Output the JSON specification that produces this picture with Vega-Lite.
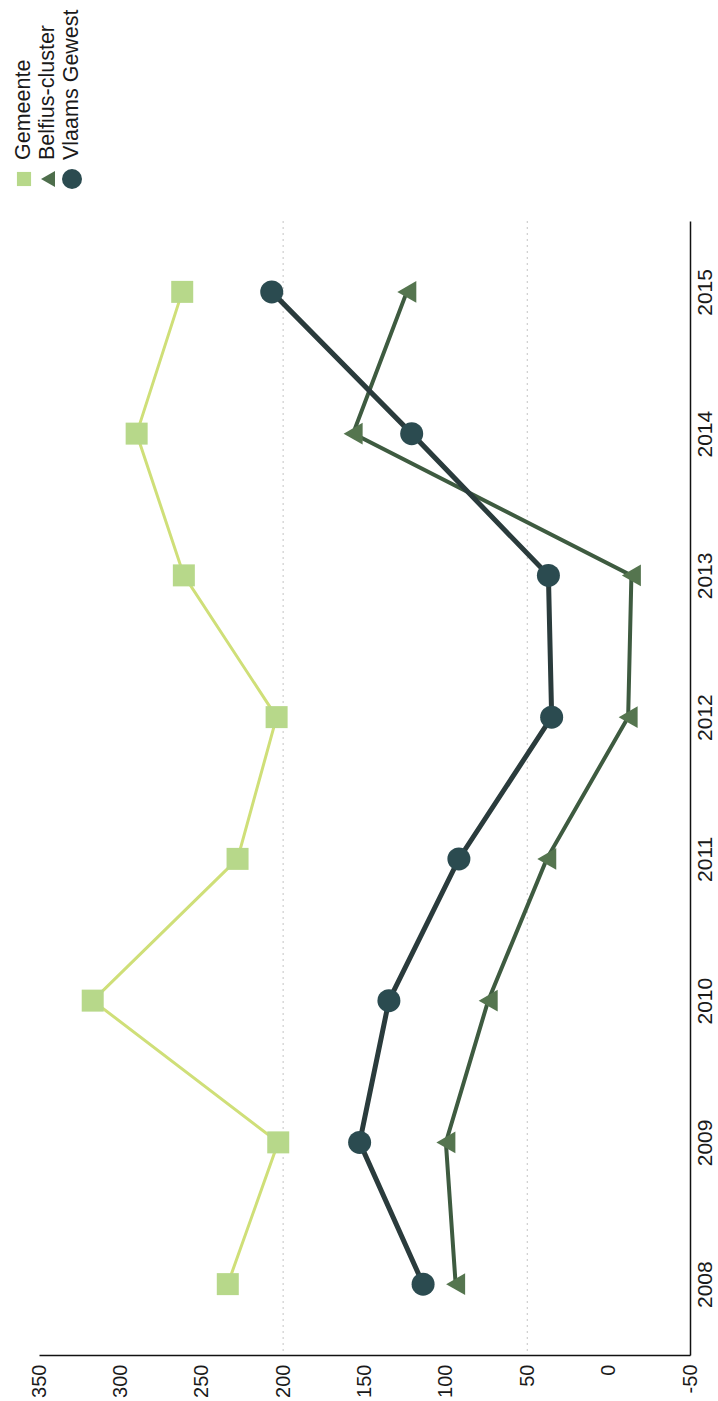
{
  "$schema": "https://vega.github.io/schema/vega-lite/v6.json",
  "background": "white",
  "padding": {"left": 12, "top": 9, "right": 5, "bottom": 5},
  "spacing": 29,
  "config": {"view": {"stroke": null}, "font": "Liberation Sans"},
  "datasets": {
    "series": [
      {"series": "Gemeente", "year": 2008, "value": 234},
      {"series": "Gemeente", "year": 2009, "value": 203},
      {"series": "Gemeente", "year": 2010, "value": 317},
      {"series": "Gemeente", "year": 2011, "value": 228},
      {"series": "Gemeente", "year": 2012, "value": 204},
      {"series": "Gemeente", "year": 2013, "value": 261},
      {"series": "Gemeente", "year": 2014, "value": 290},
      {"series": "Gemeente", "year": 2015, "value": 262},
      {"series": "Belfius-cluster", "year": 2008, "value": 94},
      {"series": "Belfius-cluster", "year": 2009, "value": 100},
      {"series": "Belfius-cluster", "year": 2010, "value": 74},
      {"series": "Belfius-cluster", "year": 2011, "value": 38},
      {"series": "Belfius-cluster", "year": 2012, "value": -12},
      {"series": "Belfius-cluster", "year": 2013, "value": -14},
      {"series": "Belfius-cluster", "year": 2014, "value": 157},
      {"series": "Belfius-cluster", "year": 2015, "value": 124},
      {"series": "Vlaams Gewest", "year": 2008, "value": 114},
      {"series": "Vlaams Gewest", "year": 2009, "value": 153},
      {"series": "Vlaams Gewest", "year": 2010, "value": 135},
      {"series": "Vlaams Gewest", "year": 2011, "value": 92},
      {"series": "Vlaams Gewest", "year": 2012, "value": 35},
      {"series": "Vlaams Gewest", "year": 2013, "value": 37},
      {"series": "Vlaams Gewest", "year": 2014, "value": 121},
      {"series": "Vlaams Gewest", "year": 2015, "value": 207}
    ],
    "grid": [{"g": 200}, {"g": 50}],
    "legend": [
      {"series": "Gemeente"},
      {"series": "Belfius-cluster"},
      {"series": "Vlaams Gewest"}
    ]
  },
  "vconcat": [
    {
      "width": 651,
      "height": 24,
      "data": {"name": "legend"},
      "encoding": {
        "x": {
          "field": "series",
          "type": "nominal",
          "sort": ["Gemeente", "Belfius-cluster", "Vlaams Gewest"],
          "scale": {"type": "point", "domain": ["Gemeente", "Belfius-cluster", "Vlaams Gewest"], "range": [-15, 33], "padding": 0},
          "axis": null
        }
      },
      "layer": [
        {
          "transform": [{"filter": "datum.series === 'Gemeente'"}],
          "mark": {"type": "point", "shape": "square", "filled": true, "opacity": 1, "size": 200, "color": "#b7d88a"}
        },
        {
          "transform": [{"filter": "datum.series === 'Belfius-cluster'"}],
          "mark": {"type": "point", "shape": "triangle-left", "filled": true, "opacity": 1, "size": 260, "color": "#4e6e4c"}
        },
        {
          "transform": [{"filter": "datum.series === 'Vlaams Gewest'"}],
          "mark": {"type": "point", "shape": "circle", "filled": true, "opacity": 1, "size": 400, "color": "#2b4b50"}
        },
        {
          "mark": {"type": "text", "angle": 270, "align": "left", "baseline": "middle", "dx": 19, "fontSize": 21.5, "font": "Liberation Sans", "color": "#1a1a1a"},
          "encoding": {"text": {"field": "series"}}
        }
      ]
    },
    {
      "width": 651,
      "height": 1134,
      "encoding": {
        "y": {
          "field": "year",
          "type": "ordinal",
          "sort": "descending",
          "scale": {"type": "point", "padding": 0.5},
          "axis": {
            "orient": "right",
            "title": null,
            "labelAngle": 270,
            "labelAlign": "center",
            "labelBaseline": "top",
            "labelFontSize": 21,
            "labelFont": "Liberation Sans",
            "labelColor": "#1a1a1a",
            "labelPadding": 4,
            "ticks": false,
            "tickSize": 0,
            "grid": false,
            "domainColor": "#111111",
            "domainWidth": 1.5
          }
        }
      },
      "layer": [
        {
          "data": {"name": "grid"},
          "mark": {"type": "rule", "stroke": "#c4c4c4", "strokeDash": [2, 4], "strokeWidth": 1},
          "encoding": {
            "x": {"field": "g", "type": "quantitative", "scale": {"domain": [-50, 350], "reverse": true, "nice": false, "zero": false}},
            "y": null
          }
        },
        {
          "data": {"name": "series"},
          "transform": [{"filter": "datum.series === 'Gemeente'"}],
          "mark": {"type": "line", "stroke": "#cfdf78", "strokeWidth": 3},
          "encoding": {
            "x": {
              "field": "value",
              "type": "quantitative",
              "scale": {"domain": [-50, 350], "reverse": true, "nice": false, "zero": false},
              "axis": {
                "orient": "bottom",
                "title": null,
                "values": [-50, 0, 50, 100, 150, 200, 250, 300, 350],
                "labelExpr": "datum.value < 0 ? '-' + abs(datum.value) : '' + datum.value",
                "labelAngle": 270,
                "labelAlign": "right",
                "labelBaseline": "middle",
                "labelFontSize": 20,
                "labelFont": "Liberation Sans",
                "labelColor": "#1a1a1a",
                "labelPadding": 9,
                "labelFlush": false,
                "labelOverlap": false,
                "ticks": false,
                "tickSize": 0,
                "grid": false,
                "domainColor": "#111111",
                "domainWidth": 1.5
              }
            }
          }
        },
        {
          "data": {"name": "series"},
          "transform": [{"filter": "datum.series === 'Belfius-cluster'"}],
          "mark": {"type": "line", "stroke": "#3e5b40", "strokeWidth": 4},
          "encoding": {"x": {"field": "value", "type": "quantitative"}}
        },
        {
          "data": {"name": "series"},
          "transform": [{"filter": "datum.series === 'Vlaams Gewest'"}],
          "mark": {"type": "line", "stroke": "#2a3b3c", "strokeWidth": 5},
          "encoding": {"x": {"field": "value", "type": "quantitative"}}
        },
        {
          "data": {"name": "series"},
          "transform": [{"filter": "datum.series === 'Gemeente'"}],
          "mark": {"type": "point", "shape": "square", "filled": true, "opacity": 1, "size": 484, "color": "#b7d88a"},
          "encoding": {"x": {"field": "value", "type": "quantitative"}}
        },
        {
          "data": {"name": "series"},
          "transform": [{"filter": "datum.series === 'Belfius-cluster'"}],
          "mark": {"type": "point", "shape": "triangle-left", "filled": true, "opacity": 1, "size": 480, "color": "#55754f"},
          "encoding": {"x": {"field": "value", "type": "quantitative"}}
        },
        {
          "data": {"name": "series"},
          "transform": [{"filter": "datum.series === 'Vlaams Gewest'"}],
          "mark": {"type": "point", "shape": "circle", "filled": true, "opacity": 1, "size": 529, "color": "#2b4b50"},
          "encoding": {"x": {"field": "value", "type": "quantitative"}}
        }
      ]
    }
  ]
}
